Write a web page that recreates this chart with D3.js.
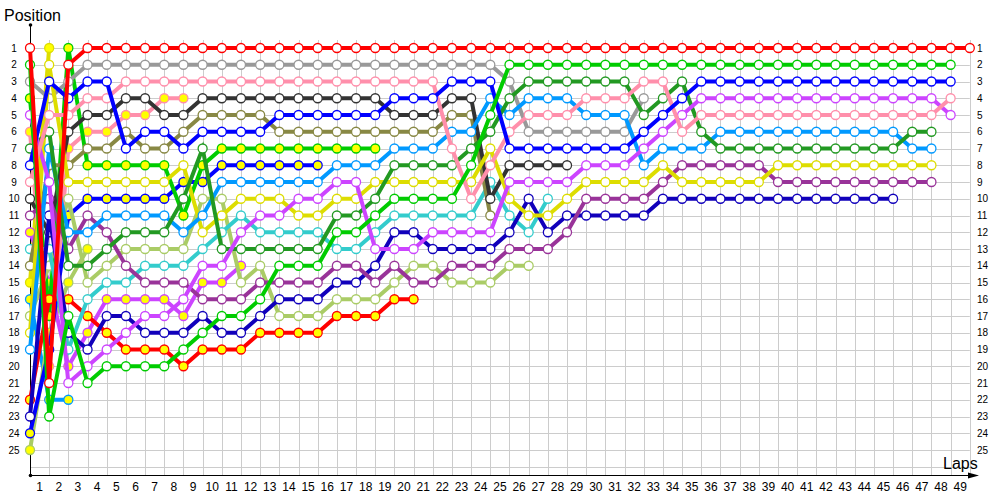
<!DOCTYPE html>
<html>
<head>
<meta charset="utf-8">
<script src="https://cdn.jsdelivr.net/npm/d3@7"></script>
<style>
  body { margin: 0; background: #fff; }
  text { font-family: "Liberation Sans", Arial, sans-serif; fill: #000; }
</style>
</head>
<body>
<div id="chart"></div>
<script>
// Tick labels
const positions = [1,2,3,4,5,6,7,8,9,10,11,12,13,14,15,16,17,18,19,20,21,22,23,24,25];
const lapLabels = [1,2,3,4,5,6,7,8,9,10,11,12,13,14,15,16,17,18,19,20,21,22,23,24,25,
  26,27,28,29,30,31,32,33,34,35,36,37,38,39,40,41,42,43,44,45,46,47,48,49];

// Position per lap, starting at lap 0 (grid)
const redW = [1,21,2,1,1,1,1,1,1,1,1,1,1,1,1,1,1,1,1,1,1,1,1,1,1,1,1,1,1,1,1,1,1,1,1,1,1,1,1,1,1,1,1,1,1,1,1,1,1,1];
const grayW = [3,4,3,2,2,2,2,2,2,2,2,2,2,2,2,2,2,2,2,2,2,2,2,2,2,3,6,6,6,6,6,6,4];
const pinkW = [9,5,5,4,4,3,3,3,3,3,3,3,3,3,3,3,3,3,3,3,3,3,7,10,8,6,5,5,5,4,4,4,3,3,6,5,5,5,5,5,5,5,5,5,5,5,5,5,4];
const dkgrayW = [10,12,6,5,5,4,4,5,5,4,4,4,4,4,4,4,4,4,4,5,5,5,4,4,10,8,8,8,8];
const oliveW = [14,8,8,7,7,6,7,7,6,5,5,5,5,6,6,6,6,6,6,6,6,6,5,5,11];
const blueW = [8,3,4,3,3,7,6,6,7,6,6,6,6,5,5,5,5,5,5,4,4,4,3,3,3,7,7,7,7,7,7,7,6,5,4,3,3,3,3,3,3,3,3,3,3,3,3,3,3];
const greenW = [2,23,17,21,20,20,20,20,19,18,17,17,16,14,14,14,12,12,11,10,10,10,10,8,5,2,2,2,2,2,2,2,2,2,2,2,2,2,2,2,2,2,2,2,2,2,2,2,2];
const dkgreenW = [7,6,14,14,13,12,12,12,10,7,13,13,13,13,13,13,11,11,10,8,8,8,8,7,6,4,3,3,3,3,3,3,5,4,3,6,7,7,7,7,7,7,7,7,7,7,6,6];
const greenY = [4,17,1,8,8,8,8,8,11,8,7,7,7,7,7,7,7,7,7];
const blueY = [24,19,11,10,10,10,10,10,9,9,8,8,8,8,8,8];
const yellowW = [18,2,9,9,9,9,9,9,8,12,11,10,10,10,11,11,10,10,9,9,9,9,9,9,7,10,11,11,10,9,9,9,9,8,9,9,9,9,9,8,8,8,8,8,8,8,8,8];
const lightblueW = [19,7,12,12,11,11,11,11,12,11,9,9,9,9,9,9,8,8,8,7,7,7,6,6,4,5,4,4,4,5,5,5,8,7,7,7,6,6,6,6,6,6,6,6,6,6,7,7];
const cyanW = [13,13,19,16,15,15,14,14,14,13,12,11,12,12,12,12,13,13,12,11,11,11,11,11,9,11,12,10];
const lightgreenW = [17,14,10,15,14,13,13,13,13,10,10,15,14,17,17,17,16,16,16,15,14,14,15,15,15,14,14];
const violetW = [5,9,21,20,19,18,17,17,16,14,14,12,11,11,10,10,9,9,13,13,13,12,12,12,12,9,9,9,9,8,8,8,7,6,5,4,4,4,4,4,4,4,4,4,4,4,4,4,5];
const violetY = [12,15,20,18,16,16,16,16,17,15,15,14];
const purpleW = [11,10,13,11,12,14,15,15,15,16,16,16,15,15,15,15,14,14,15,14,15,15,14,14,14,13,13,13,12,10,10,10,10,9,8,8,8,8,8,9,9,9,9,9,9,9,9,9];
const navyW = [23,11,18,19,17,17,18,18,18,17,18,18,17,16,16,16,15,15,14,12,12,13,13,13,13,12,10,12,11,11,11,11,11,10,10,10,10,10,10,10,10,10,10,10,10,10];
const redY = [22,16,16,17,18,19,19,19,20,19,19,19,18,18,18,18,17,17,17,16,16];
const pinkY = [6,20,7,6,6,5,5,4,4];
const lightblueY = [16,22,22];
const yellowY = [15,1];
const lightgreenY = [25,18,15,13];

// Series styling (stroke colour, marker fill)
const colors = {
  red: "#ff0000", green: "#00cc00", gray: "#999999", pink: "#ff8fab", dkgray: "#333333",
  blue: "#0000ff", olive: "#888844", yellow: "#dddd00", lightblue: "#0099ff", dkgreen: "#229922",
  cyan: "#33cccc", lightgreen: "#aacc66", violet: "#cc44ff", purple: "#993399", navy: "#1100bb"
};
const WHITE = "#ffffff", YELLOW = "#ffff00";

// back to front
const series = [
  { c: "yellow", f: YELLOW, pos: yellowY },
  { c: "lightblue", f: YELLOW, pos: lightblueY },
  { c: "lightgreen", f: YELLOW, pos: lightgreenY },
  { c: "pink", f: YELLOW, pos: pinkY },
  { c: "violet", f: YELLOW, pos: violetY },
  { c: "blue", f: YELLOW, pos: blueY },
  { c: "green", f: YELLOW, pos: greenY },
  { c: "red", f: YELLOW, pos: redY },
  { c: "lightgreen", f: WHITE, pos: lightgreenW },
  { c: "cyan", f: WHITE, pos: cyanW },
  { c: "olive", f: WHITE, pos: oliveW },
  { c: "dkgray", f: WHITE, pos: dkgrayW },
  { c: "gray", f: WHITE, pos: grayW },
  { c: "navy", f: WHITE, pos: navyW },
  { c: "purple", f: WHITE, pos: purpleW },
  { c: "yellow", f: WHITE, pos: yellowW },
  { c: "lightblue", f: WHITE, pos: lightblueW },
  { c: "dkgreen", f: WHITE, pos: dkgreenW },
  { c: "violet", f: WHITE, pos: violetW },
  { c: "pink", f: WHITE, pos: pinkW },
  { c: "blue", f: WHITE, pos: blueW },
  { c: "green", f: WHITE, pos: greenW },
  { c: "red", f: WHITE, pos: redW }
];

const width = 1000, height = 500;

const svg = d3.select("#chart").append("svg")
    .attr("width", width)
    .attr("height", height);

const x = d3.scaleLinear().domain([0, 49]).range([30, 969.8]);
const y = d3.scaleLinear().domain([1, 25]).range([48, 450]);
const xBand = d3.scaleBand().domain(lapLabels).range([x(0), x(49)]);

// grid
const grid = svg.append("g").attr("stroke", "#cccccc").attr("stroke-width", 1);
grid.selectAll("line.v")
  .data(lapLabels)
  .enter().append("line")
    .attr("x1", d => Math.round(x(d)) + 0.5).attr("x2", d => Math.round(x(d)) + 0.5)
    .attr("y1", 40).attr("y2", 475);
grid.selectAll("line.h")
  .data(positions.concat([26]))
  .enter().append("line")
    .attr("x1", x(0)).attr("x2", x(49))
    .attr("y1", d => Math.round(y(d)) + 0.5).attr("y2", d => Math.round(y(d)) + 0.5);

// axes lines
svg.append("line").attr("x1", 30.5).attr("x2", 30.5).attr("y1", 24).attr("y2", 475.5)
  .attr("stroke", "#000").attr("stroke-width", 1);
svg.append("circle").attr("cx", 30.5).attr("cy", 25).attr("r", 1.8).attr("fill", "#000");
svg.append("line").attr("x1", 30).attr("x2", 972).attr("y1", 475.5).attr("y2", 475.5)
  .attr("stroke", "#000").attr("stroke-width", 1);
svg.append("circle").attr("cx", 30.5).attr("cy", 475.5).attr("r", 1.8).attr("fill", "#000");
svg.append("path").attr("d", "M968,472.5 L979,475.5 L968,478.5 Z").attr("fill", "#000");

// tick labels via d3 axes
const leftAxis = svg.append("g").attr("transform", "translate(19,0)")
  .call(d3.axisLeft(y).tickValues(positions).tickSize(0).tickPadding(0));
leftAxis.selectAll("text").attr("text-anchor", "middle").attr("x", -5).attr("font-size", 10);
const rightAxis = svg.append("g").attr("transform", "translate(977,0)")
  .call(d3.axisRight(y).tickValues(positions).tickSize(0).tickPadding(0));
rightAxis.selectAll("text").attr("font-size", 10);
const bottomAxis = svg.append("g").attr("transform", "translate(0,482)")
  .call(d3.axisBottom(xBand).tickSize(0).tickPadding(0));
bottomAxis.selectAll("text").attr("font-size", 12);
svg.selectAll(".domain").remove();
svg.selectAll(".tick text").attr("font-family", "'Liberation Sans', Arial, sans-serif").attr("fill", "#000");

svg.append("text").attr("x", 4).attr("y", 21).attr("font-size", 16).text("Position");
svg.append("text").attr("x", 943).attr("y", 469).attr("font-size", 16).text("Laps");

// series
const line = d3.line().x((d, i) => x(i)).y(d => y(d));
const seriesG = svg.append("g").selectAll("g")
  .data(series)
  .enter().append("g");

seriesG.append("path")
    .attr("d", d => line(d.pos))
    .attr("fill", "none")
    .attr("stroke", d => colors[d.c])
    .attr("stroke-width", 4)
    .attr("stroke-linejoin", "miter");

seriesG.each(function(s) {
  d3.select(this).selectAll("circle")
    .data(s.pos)
    .enter().append("circle")
      .attr("cx", (d, i) => x(i))
      .attr("cy", d => y(d))
      .attr("r", 4.5)
      .attr("fill", s.f)
      .attr("stroke", colors[s.c])
      .attr("stroke-width", 1.3);
});
</script>
</body>
</html>
